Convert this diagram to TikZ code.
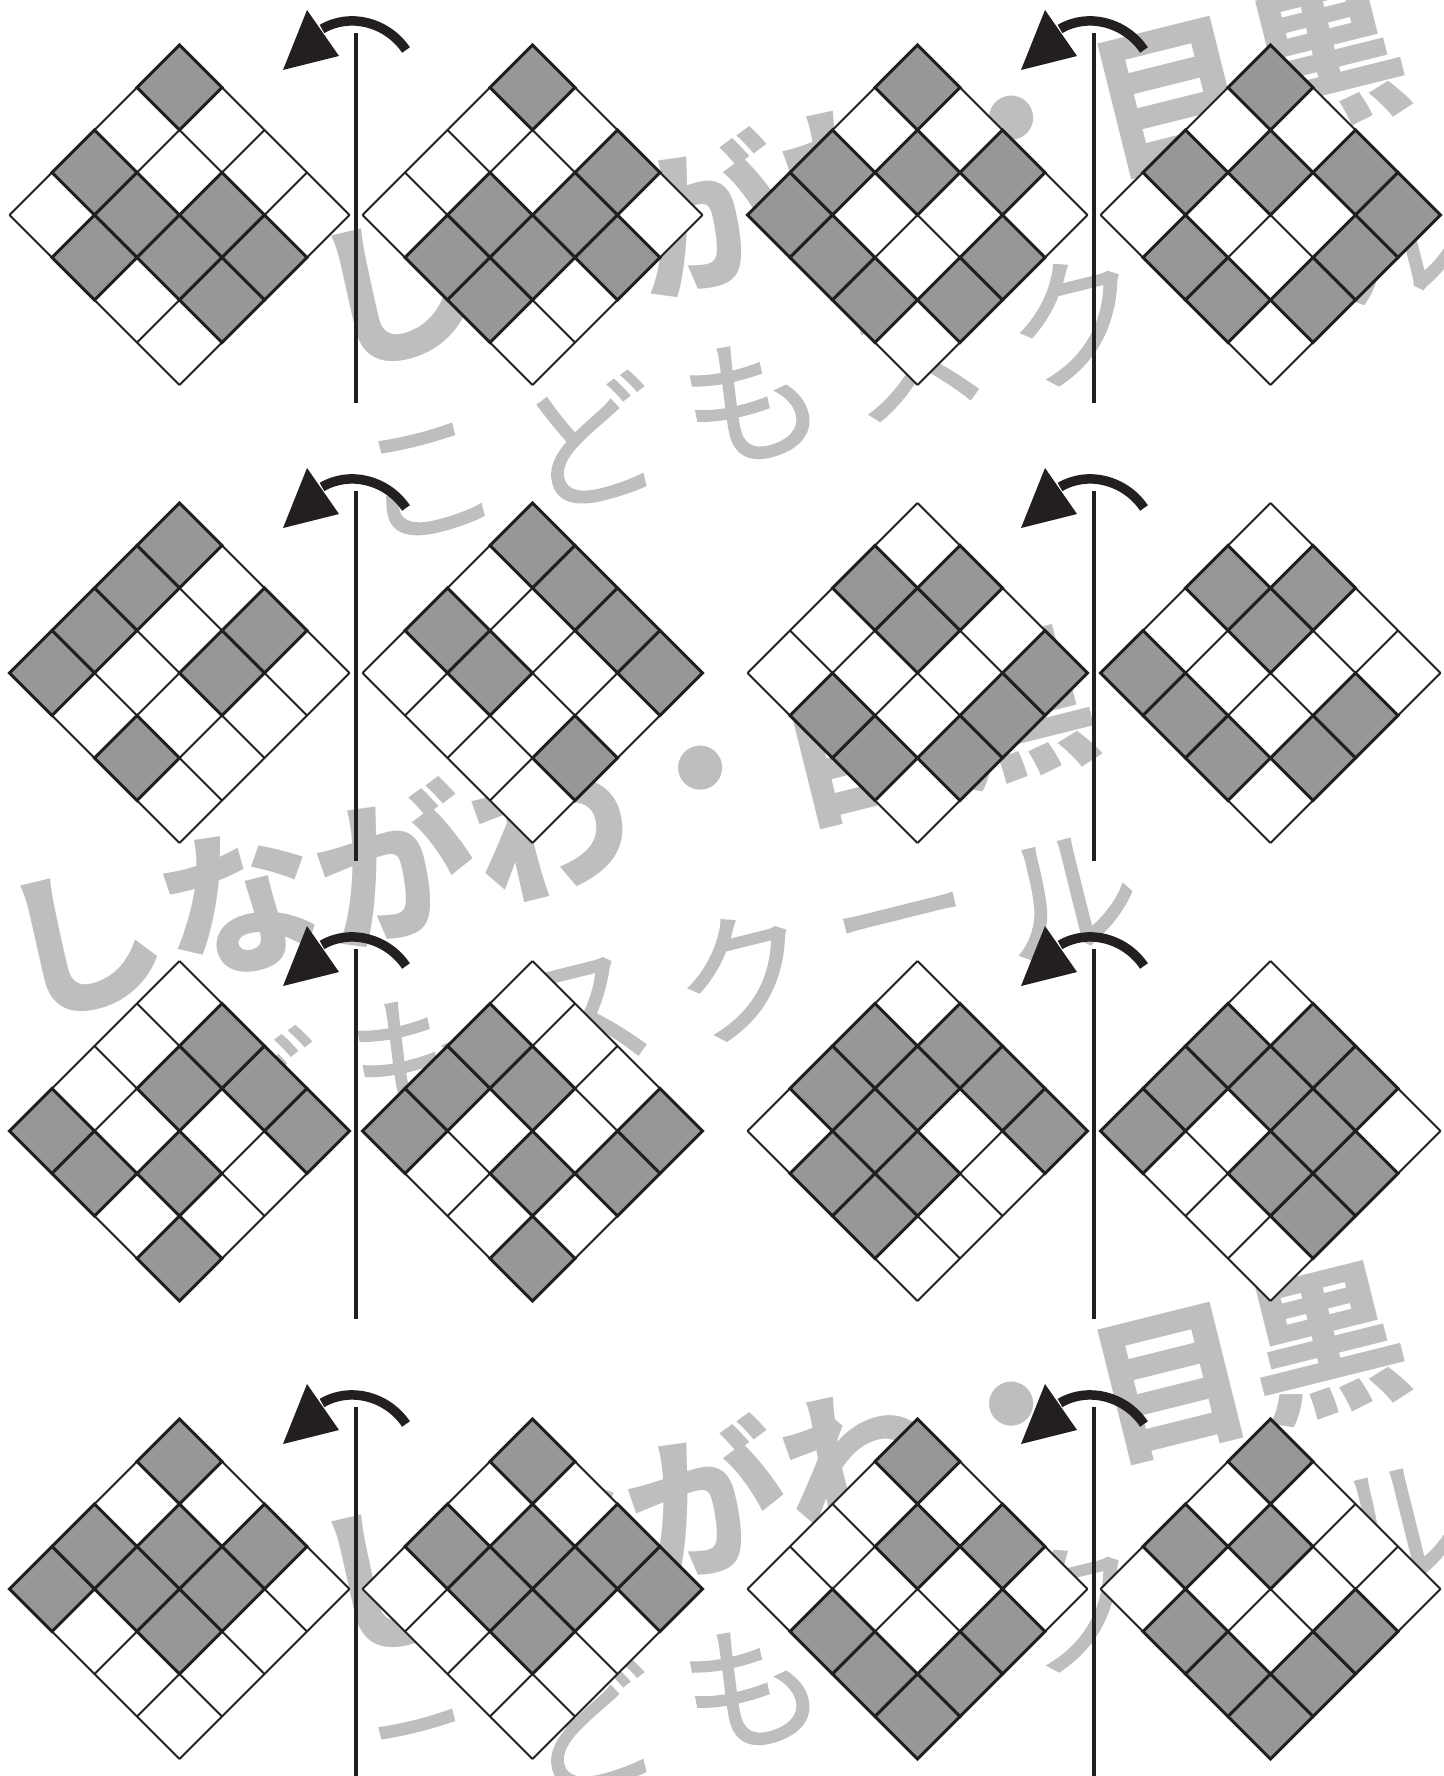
\documentclass[tikz,border=0pt]{standalone}
\usepackage{fontspec}
\newfontfamily\cjk{Noto Sans CJK JP}
\newfontfamily\cjkl[FakeBold=1]{Noto Sans CJK JP}
\definecolor{ink}{RGB}{35,31,32}
\definecolor{cellgray}{RGB}{151,151,153}
\definecolor{wmgray}{RGB}{190,190,192}
\tikzset{
  gridline/.style={draw=ink, line width=2pt},
  graycell/.style={fill=cellgray, draw=ink, line width=3pt},
  axisline/.style={draw=ink, line width=4pt},
  turnarc/.style={draw=ink, line width=9.5pt},
  wmtop/.style={text=wmgray, font=\cjk\bfseries\fontsize{158}{158}\selectfont, inner sep=0pt, rotate=14},
  wmbot/.style={text=wmgray, font=\cjkl\fontsize{140}{140}\selectfont, inner sep=0pt, rotate=14}
}
% diamond of 4x4 cells; #1,#2 centre; #3 grey cells as dx/dy (units of half cell diagonal)
\newcommand\dgrid[3]{%
  \begin{scope}[shift={(#1,#2)}]
    \fill[white] (-170,0) -- (0,-170) -- (170,0) -- (0,170) -- cycle;
    \foreach \u/\v in {#3} {
      \path[graycell] ({\u*42.5-42.5},{\v*42.5}) -- ({\u*42.5},{\v*42.5-42.5}) -- ({\u*42.5+42.5},{\v*42.5}) -- ({\u*42.5},{\v*42.5+42.5}) -- cycle;
    }
    \foreach \k in {0,...,4} {
      \draw[gridline] ({-42.5*\k},{-170+42.5*\k}) -- ({170-42.5*\k},{42.5*\k});
      \draw[gridline] ({42.5*\k},{-170+42.5*\k}) -- ({42.5*\k-170},{42.5*\k});
    }
  \end{scope}}
% axis with turning arrow; #1 axis x, #2 centre y, #3 name
\newcommand\flipaxis[3]{%
  \begin{scope}[shift={(#1,#2)}]
    \coordinate (#3top) at (0,-182);
    \coordinate (#3bot) at (0,188);
    \draw[axisline] (#3top) -- (#3bot);
    \draw[turnarc] (50,-165) .. controls (31,-193) and (-6,-202.5) .. (-34,-186);
    \fill[ink] (-73,-145) -- (-49,-205) -- (-17,-159) -- cycle;
  \end{scope}}
% watermark; #1,#2 centre of first line; #3 name; #4 shift of second line
\newcommand\wmark[4]{%
  \begin{scope}[shift={(#1,#2)}, rotate=14]
    \foreach \c [count=\i from -3] in {し,な,が,わ,・,目,黒}
      \node[wmtop] (#3a\i) at ({\i*160},0) {\c};
    \foreach \c [count=\i from -3] in {こ,ど,も,ス,ク,ー,ル}
      \node[wmbot] (#3b\i) at ({\i*167+6+#4},193) {\c};
  \end{scope}}
\begin{document}
\begin{tikzpicture}[x=1pt,y=-1pt]
\useasboundingbox (0,0) rectangle (1443,1776);
\fill[white] (0,0) rectangle (1443,1776);
% watermarks
\wmark{861}{175}{wA}{0}
\wmark{550}{825}{wB}{-22}
\wmark{861}{1461}{wC}{0}
% row 1
\dgrid{179.5}{215}{0/-3, -2/-1, -1/0, 1/0, -2/1, 0/1, 2/1, 1/2}
\dgrid{532.5}{215}{0/-3, 2/-1, 1/0, -1/0, 2/1, 0/1, -2/1, -1/2}
\dgrid{917.5}{215}{0/-3, -2/-1, 0/-1, 2/-1, -3/0, -2/1, 2/1, -1/2, 1/2}
\dgrid{1270.5}{215}{0/-3, -2/-1, 0/-1, 2/-1, 3/0, -2/1, 2/1, -1/2, 1/2}
% row 2
\dgrid{179.5}{673}{0/-3, -1/-2, -2/-1, 2/-1, -3/0, 1/0, -1/2}
\dgrid{532.5}{673}{0/-3, 1/-2, 2/-1, -2/-1, 3/0, -1/0, 1/2}
\dgrid{917.5}{673}{-1/-2, 1/-2, 0/-1, 3/0, -2/1, 2/1, -1/2, 1/2}
\dgrid{1270.5}{673}{-1/-2, 1/-2, 0/-1, -3/0, -2/1, 2/1, -1/2, 1/2}
% row 3
\dgrid{179.5}{1131}{1/-2, 0/-1, 2/-1, -3/0, 3/0, -2/1, 0/1, 0/3}
\dgrid{532.5}{1131}{-1/-2, 0/-1, -2/-1, 3/0, -3/0, 2/1, 0/1, 0/3}
\dgrid{917.5}{1131}{-1/-2, 1/-2, -2/-1, 0/-1, 2/-1, -1/0, 3/0, -2/1, 0/1, -1/2}
\dgrid{1270.5}{1131}{1/-2, -1/-2, 2/-1, 0/-1, -2/-1, 1/0, -3/0, 2/1, 0/1, 1/2}
% row 4
\dgrid{179.5}{1589}{0/-3, -2/-1, 0/-1, 2/-1, -3/0, -1/0, 1/0, 0/1}
\dgrid{532.5}{1589}{0/-3, -2/-1, 0/-1, 2/-1, 3/0, 1/0, -1/0, 0/1}
\dgrid{917.5}{1589}{0/-3, 0/-1, 2/-1, -2/1, 2/1, -1/2, 1/2, 0/3}
\dgrid{1270.5}{1589}{0/-3, 0/-1, -2/-1, -2/1, 2/1, -1/2, 1/2, 0/3}
% axes and arrows
\flipaxis{356}{215}{ax1}
\flipaxis{1094}{215}{ax2}
\flipaxis{356}{673}{ax3}
\flipaxis{1094}{673}{ax4}
\flipaxis{356}{1131}{ax5}
\flipaxis{1094}{1131}{ax6}
\flipaxis{356}{1589}{ax7}
\flipaxis{1094}{1589}{ax8}
\end{tikzpicture}
\end{document}
